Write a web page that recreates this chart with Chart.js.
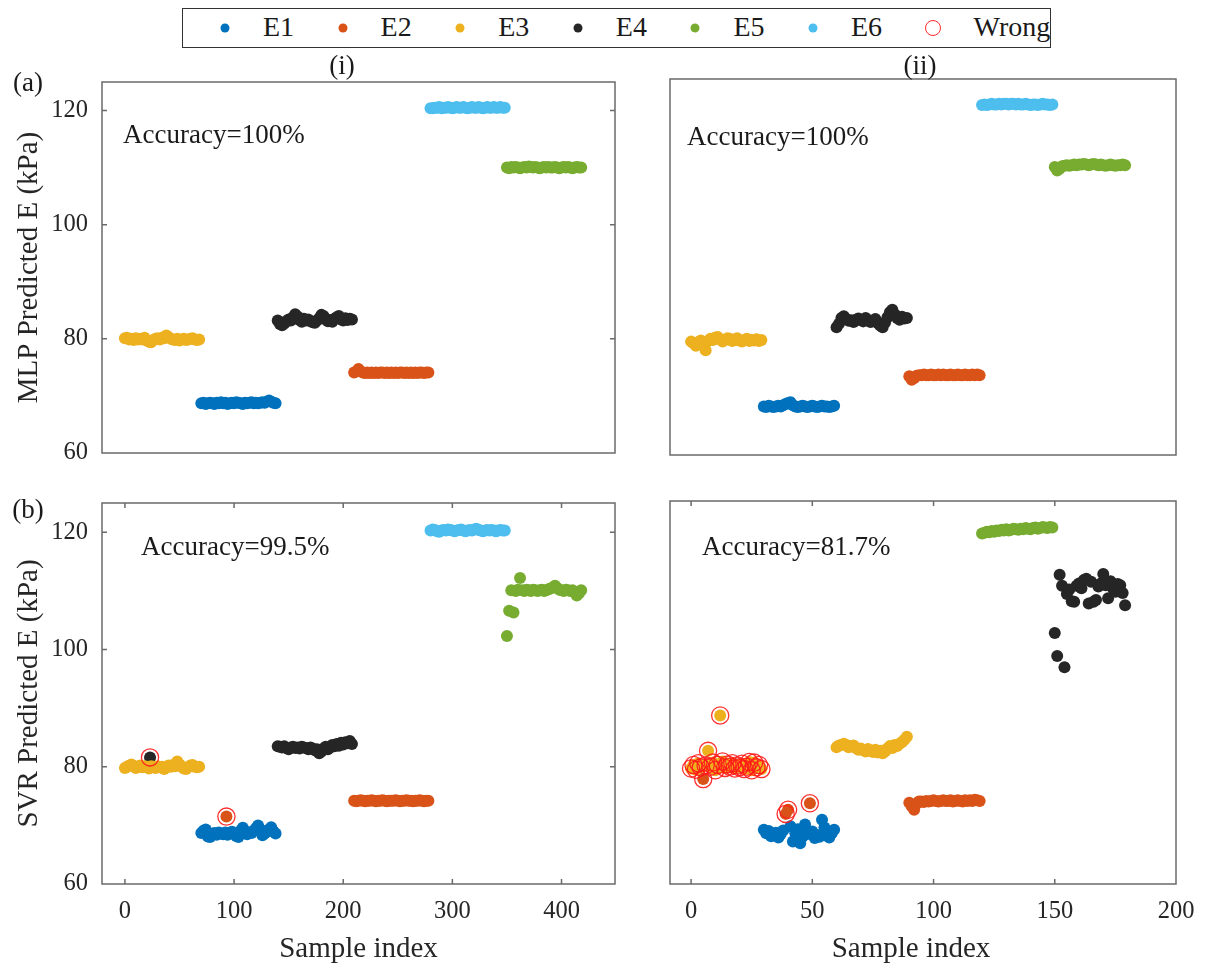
<!DOCTYPE html>
<html>
<head>
<meta charset="utf-8">
<script src="https://cdn.jsdelivr.net/npm/chart.js@4.4.0/dist/chart.umd.min.js"></script>
<style>
html,body{margin:0;padding:0;background:#fff;}
#wrap{position:relative;width:1217px;height:966px;overflow:hidden;font-family:"Liberation Serif","Times New Roman",serif;color:#1a1a1a;}
canvas.layer{position:absolute;left:0;top:0;}
.lbl{position:absolute;font-size:27px;line-height:1;white-space:nowrap;transform:translate(-50%,-50%);}
#legend{position:absolute;left:182px;top:8px;width:869px;height:40px;border:1.5px solid #333;box-sizing:border-box;background:#fff;}
.li{position:absolute;top:0;height:100%;display:flex;align-items:center;font-size:28px;white-space:nowrap;}
.dot{position:absolute;width:9px;height:9px;border-radius:50%;top:50%;transform:translate(-50%,-50%);}
.ring{position:absolute;width:16px;height:16px;border-radius:50%;border:1.3px solid #ff2a2a;box-sizing:border-box;top:50%;transform:translate(-50%,-50%);}
.lt{position:absolute;top:50%;transform:translateY(-52%);line-height:1;}
</style>
</head>
<body>
<div id="wrap">
  <canvas id="cTL" class="layer" width="1217" height="966"></canvas>
  <canvas id="cTR" class="layer" width="1217" height="966"></canvas>
  <canvas id="cBL" class="layer" width="1217" height="966"></canvas>
  <canvas id="cBR" class="layer" width="1217" height="966"></canvas>
  <div id="legend"></div>
  <div class="lbl" style="left:28px;top:82px;">(a)</div>
  <div class="lbl" style="left:28px;top:509px;">(b)</div>
  <div class="lbl" style="left:342px;top:65px;">(i)</div>
  <div class="lbl" style="left:920px;top:65px;">(ii)</div>
</div>
<script>
// ---------------- DATA ----------------
const classNames  = ['E1','E2','E3','E4','E5','E6'];
const classColors = ['#0072BD','#D95319','#EDB120','#262626','#77AC30','#4DBEEE'];
const wrongLabel  = 'Wrong';
const xTicksI  = [0,100,200,300,400];
const xTicksII = [0,50,100,150,200];
const yTicks   = [60,80,100,120];
const xAxisTitle = 'Sample index';
const yAxisTitles = ['MLP Predicted E (kPa)','SVR Predicted E (kPa)'];
const accuracyTexts = ['Accuracy=100%','Accuracy=100%','Accuracy=99.5%','Accuracy=81.7%'];

// MLP (i): 70 samples per class, every second sample listed
const mlpI_E3 = [80.1,80.2,79.9,80.0,79.8,80.1,79.9,80.0,79.9,80.2,79.7,79.5,79.4,79.8,80.0,80.1,79.9,80.2,80.1,80.6,80.3,80.0,79.9,79.8,80.0,79.7,79.9,80.0,79.8,79.9,80.0,80.1,79.9,79.8,79.9];
const mlpI_E1 = [68.7,68.8,68.6,68.7,68.8,68.7,68.6,68.8,68.7,68.9,68.7,68.8,68.6,68.7,68.8,68.7,68.9,68.8,68.7,68.6,68.8,68.7,68.8,68.9,68.7,68.8,68.7,68.8,68.9,68.8,69.0,69.2,69.0,68.8,68.7];
const mlpI_E4 = [83.2,82.6,82.4,82.7,83.1,83.4,83.2,83.8,84.3,83.9,83.3,83.0,83.5,83.2,83.4,83.1,82.9,82.8,83.2,83.6,84.2,84.0,83.4,83.1,83.3,83.0,83.5,83.8,84.0,83.4,83.2,83.6,83.3,83.5,83.4];
const mlpI_E2 = [74.1,74.3,74.7,74.3,74.1,74.0,74.1,74.0,74.1,74.0,74.1,74.0,74.1,74.1,74.0,74.1,74.0,74.1,74.0,74.1,74.0,74.1,74.1,74.0,74.1,74.0,74.1,74.0,74.1,74.0,74.1,74.1,74.0,74.1,74.1];
const mlpI_E6 = [120.4,120.4,120.5,120.5,120.6,120.4,120.5,120.5,120.6,120.5,120.4,120.5,120.6,120.5,120.5,120.6,120.5,120.4,120.5,120.6,120.5,120.5,120.6,120.5,120.4,120.5,120.6,120.5,120.5,120.6,120.5,120.5,120.6,120.5,120.5];
const mlpI_E5 = [110.0,109.9,110.1,110.0,110.1,110.0,109.9,110.0,110.1,110.0,110.2,110.1,110.0,110.1,110.0,109.9,110.0,110.1,110.0,110.1,110.0,110.0,110.1,110.0,109.9,110.0,110.1,110.0,110.1,110.0,109.9,110.0,110.1,110.0,110.0];

// MLP (ii): 30 samples per class
const mlpII_E3 = [79.6,79.3,78.9,79.5,79.8,79.2,78.1,79.7,80.1,79.9,80.3,80.4,80.0,79.6,79.9,80.2,80.1,79.7,79.9,80.2,79.8,79.6,79.9,80.1,79.7,79.9,79.8,80.0,79.7,79.9];
const mlpII_E1 = [68.4,68.3,68.5,68.4,68.3,68.4,68.5,68.4,68.6,68.8,69.0,69.1,68.6,68.4,68.3,68.4,68.5,68.4,68.3,68.4,68.5,68.4,68.3,68.4,68.5,68.4,68.4,68.3,68.4,68.5];
const mlpII_E4 = [82.1,82.7,83.7,84.0,83.5,83.2,83.3,83.0,83.4,83.6,83.3,83.1,83.7,83.3,83.0,83.2,83.5,82.8,82.4,82.1,82.9,83.8,84.7,85.1,84.3,83.7,83.4,83.9,83.6,83.7];
const mlpII_E2 = [73.6,73.0,73.3,73.7,73.8,73.8,73.9,73.8,73.8,73.9,73.8,73.8,73.9,73.8,73.9,73.8,73.8,73.9,73.8,73.8,73.9,73.8,73.8,73.9,73.8,73.8,73.9,73.8,73.9,73.8];
const mlpII_E6 = [120.5,120.6,120.5,120.6,120.7,120.6,120.6,120.7,120.6,120.7,120.7,120.6,120.7,120.7,120.6,120.7,120.6,120.6,120.7,120.6,120.5,120.6,120.6,120.5,120.6,120.7,120.6,120.6,120.5,120.6];
const mlpII_E5 = [109.8,109.2,109.5,109.9,110.0,110.1,110.0,110.1,110.2,110.1,110.2,110.2,110.3,110.2,110.1,110.2,110.3,110.2,110.1,110.2,110.1,110.0,110.1,110.2,110.1,110.0,110.1,110.1,110.2,110.1];

// SVR (i): every second sample listed; misclassified points given separately
const svrI_E3 = [79.8,80.0,80.2,80.4,80.1,79.8,80.0,80.2,79.9,80.1,80.0,79.7,80.1,80.0,79.8,80.1,79.9,80.0,79.6,79.9,80.2,80.0,80.3,80.1,80.9,80.4,80.0,79.7,79.6,79.9,80.2,80.3,80.0,79.9,80.0];
const svrI_E1 = [68.7,69.1,69.3,68.1,68.0,68.5,68.7,68.4,68.8,68.6,68.5,68.8,68.4,68.7,68.9,68.5,68.2,68.0,69.1,69.6,69.0,68.5,68.8,68.7,69.1,69.5,70.0,69.3,68.3,68.6,68.9,69.3,69.7,69.0,68.6];
const svrI_E4 = [83.5,83.4,83.3,83.5,83.2,83.0,83.3,83.4,83.2,83.3,83.1,83.4,83.3,83.2,83.0,83.3,83.1,82.8,83.0,82.3,82.6,83.1,83.4,83.0,83.3,83.7,83.5,83.9,83.6,84.1,83.8,84.2,84.0,84.4,83.9];
const svrI_E2 = [74.2,74.1,74.2,74.3,74.2,74.1,74.2,74.2,74.3,74.2,74.1,74.2,74.2,74.3,74.2,74.1,74.2,74.2,74.2,74.3,74.2,74.1,74.2,74.2,74.3,74.2,74.2,74.1,74.2,74.2,74.3,74.2,74.1,74.2,74.2];
const svrI_E6 = [120.3,120.5,120.4,120.2,120.1,120.3,120.4,120.3,120.5,120.4,120.3,120.2,120.3,120.4,120.5,120.3,120.2,120.3,120.4,120.3,120.5,120.6,120.4,120.3,120.2,120.3,120.4,120.3,120.4,120.3,120.2,120.3,120.4,120.3,120.3];
const svrI_E5 = [102.3,106.6,110.1,106.3,110.0,110.2,112.2,110.1,110.0,110.2,110.1,110.0,110.2,110.1,110.0,110.1,110.2,110.0,110.1,110.3,110.4,110.6,110.9,110.5,110.2,110.1,110.0,110.2,110.1,110.0,110.1,109.8,109.2,109.6,110.1];
const svrI_extraE4 = [[23,81.6]];
const svrI_extraE2 = [[93,71.5]];
const svrI_wrong   = [[23,81.6],[93,71.5]];

// SVR (ii): one value per sample (null = drawn in another colour)
const svrII_g1_E3 = [79.6,80.2,79.4,80.5,79.8,null,80.1,82.6,79.9,80.6,79.3,80.2,88.6,80.8,79.7,80.3,79.9,80.5,79.6,80.1,79.8,80.4,79.5,79.9,80.7,79.3,80.6,79.8,80.2,79.5];
const svrII_g1_E2 = [[5,77.8]];
const svrII_E1 = [69.2,68.6,69.0,68.1,68.3,68.7,67.9,68.5,69.1,null,null,69.8,67.2,68.6,69.3,66.9,68.0,70.1,68.5,null,68.9,67.8,68.3,68.0,70.9,69.6,68.2,67.9,68.6,69.2];
const svrII_g2_E2 = [[39,71.9],[40,72.6],[49,73.7]];
const svrII_E3b = [83.2,83.5,83.6,83.8,83.6,83.2,83.4,83.5,83.1,82.8,83.0,82.7,82.5,82.9,82.6,82.4,82.8,82.3,82.6,82.2,82.5,83.0,83.4,83.1,83.6,83.4,83.8,84.1,84.5,85.0];
const svrII_E2 = [73.8,73.2,72.6,73.6,74.0,74.0,73.9,74.1,74.0,74.1,74.2,74.1,74.0,74.1,74.2,74.1,74.1,74.2,74.0,74.1,74.2,74.1,74.0,74.2,74.1,74.2,74.1,74.3,74.2,74.1];
const svrII_E5 = [119.5,119.6,119.8,119.7,119.9,119.8,120.0,119.9,120.1,120.0,120.2,120.0,120.1,120.3,120.2,120.1,120.3,120.2,120.4,120.3,120.2,120.4,120.5,120.3,120.4,120.6,120.5,120.4,120.6,120.5];
const svrII_E4 = [102.6,98.7,112.5,110.6,96.8,109.2,110.0,108.0,107.9,110.6,111.0,110.2,111.6,111.8,107.6,111.3,107.9,108.2,110.5,111.0,112.6,110.7,108.5,111.4,110.2,109.6,110.9,110.7,109.4,107.3];
const svrII_wrongIdx = [0,1,2,3,4,5,6,7,8,9,10,11,12,13,14,15,16,17,18,19,20,21,22,23,24,25,26,27,28,29,39,40,49];

// ---------------- HELPERS ----------------
function seq(start, step, ys){ const out=[]; ys.forEach((y,i)=>{ if(y!==null) out.push({x:start+i*step,y}); }); return out; }
function pairs(arr){ return arr.map(p=>({x:p[0],y:p[1]})); }
const R = 6;
function ds(ci, pts){ return {label:classNames[ci], data:pts, pointRadius:R, pointHoverRadius:R, pointBackgroundColor:classColors[ci], pointBorderWidth:0, pointBorderColor:'rgba(0,0,0,0)', showLine:false}; }
function ringDs(pts){ return {label:wrongLabel, data:pts, order:-1, pointRadius:8.6, pointHoverRadius:8.6, pointBackgroundColor:'rgba(0,0,0,0)', pointBorderColor:'rgba(255,25,25,0.9)', pointBorderWidth:1.3, showLine:false}; }

const framePlugin = {
  id:'frame',
  afterDatasetsDraw(chart, args, o){
    const {ctx, chartArea:a, scales} = chart;
    ctx.save();
    ctx.strokeStyle='#6a6a6a'; ctx.lineWidth=1.5;
    ctx.strokeRect(a.left, a.top, a.right-a.left, a.bottom-a.top);
    const L=5;
    ctx.beginPath();
    if(o.xTicks){ scales.x.ticks.forEach(t=>{ const p=scales.x.getPixelForValue(t.value); if(p>a.left+1&&p<a.right-1){ ctx.moveTo(p,a.bottom); ctx.lineTo(p,a.bottom-L); ctx.moveTo(p,a.top); ctx.lineTo(p,a.top+L);} }); }
    if(o.yTicks){ scales.y.ticks.forEach(t=>{ const p=scales.y.getPixelForValue(t.value); if(p>a.top+1&&p<a.bottom-1){ ctx.moveTo(a.left,p); ctx.lineTo(a.left+L,p); ctx.moveTo(a.right,p); ctx.lineTo(a.right-L,p);} }); }
    ctx.stroke();
    ctx.fillStyle='#1a1a1a'; ctx.font='27px "Liberation Serif"'; ctx.textBaseline='alphabetic'; ctx.textAlign='left';
    ctx.fillText(o.text, a.left+o.tx, a.top+o.ty);
    if(o.xTitle){
      ctx.fillStyle='#262626'; ctx.font='29px "Liberation Serif"'; ctx.textAlign='center';
      ctx.fillText(o.xTitle, (a.left+a.right)/2 + o.titleDx, o.titleBase);
    }
    ctx.restore();
  }
};

const W=1217, H=966;
const tickFont = {family:'"Liberation Serif"', size:24.5};
const titleFont = {family:'"Liberation Serif"', size:29};

function makeChart(id, c){
  new Chart(document.getElementById(id), {
    type:'scatter',
    data:{datasets:c.datasets},
    options:{
      responsive:false, animation:false, events:[],
      layout:{padding:{left:0, top:c.top, right:W-c.right, bottom:0}},
      plugins:{legend:{display:false}, tooltip:{enabled:false},
        frame:{xTicks:c.xTickMarks, yTicks:c.yTickMarks, text:c.text, tx:c.tx, ty:c.ty,
               xTitle:c.xLabels?xAxisTitle:null, titleDx:c.titleDx||0, titleBase:957}},
      scales:{
        x:{type:'linear', position:'bottom', min:c.xmin, max:c.xmax,
           afterBuildTicks:s=>{ s.ticks=c.xt.map(v=>({value:v})); },
           afterFit:s=>{ s.height=H-c.bottom; },
           grid:{display:false, drawTicks:false}, border:{display:false},
           ticks:{display:c.xLabels, font:tickFont, color:'#262626', padding:13, maxRotation:0, autoSkip:false},
           title:{display:false}},
        y:{type:'linear', min:60, max:125,
           afterBuildTicks:s=>{ s.ticks=yTicks.map(v=>({value:v})); },
           afterFit:s=>{ s.width=c.left; },
           grid:{display:false, drawTicks:false}, border:{display:false},
           ticks:{display:c.yLabels, font:tickFont, color:'#262626', padding:14},
           title:{display:!!c.yTitle, text:c.yTitle||'', font:titleFont, color:'#262626', padding:{top:12,bottom:0}}}
      }
    },
    plugins:[framePlugin]
  });
}

// ---------------- PANELS ----------------
makeChart('cTL', {left:102, right:615, top:82, bottom:453, xmin:-21, xmax:449, xt:xTicksI,
  xLabels:false, yLabels:true, yTitle:yAxisTitles[0], xTickMarks:false, yTickMarks:true,
  text:accuracyTexts[0], tx:21, ty:61,
  datasets:[ds(0,seq(70,2,mlpI_E1)), ds(1,seq(210,2,mlpI_E2)), ds(2,seq(0,2,mlpI_E3)), ds(3,seq(140,2,mlpI_E4)), ds(4,seq(350,2,mlpI_E5)), ds(5,seq(280,2,mlpI_E6))]});

makeChart('cTR', {left:670, right:1176, top:79, bottom:455, xmin:-8.7, xmax:200, xt:xTicksII,
  xLabels:false, yLabels:false, yTitle:null, xTickMarks:false, yTickMarks:false,
  text:accuracyTexts[1], tx:17, ty:66,
  datasets:[ds(0,seq(30,1,mlpII_E1)), ds(1,seq(90,1,mlpII_E2)), ds(2,seq(0,1,mlpII_E3)), ds(3,seq(60,1,mlpII_E4)), ds(4,seq(150,1,mlpII_E5)), ds(5,seq(120,1,mlpII_E6))]});

makeChart('cBL', {left:102, right:615, top:503, bottom:884, xmin:-21, xmax:449, xt:xTicksI,
  xLabels:true, yLabels:true, yTitle:yAxisTitles[1], xTickMarks:true, yTickMarks:true,
  text:accuracyTexts[2], tx:39, ty:52, titleDx:0,
  datasets:[ringDs(pairs(svrI_wrong)),
    ds(0,seq(70,2,svrI_E1)), ds(1,seq(210,2,svrI_E2).concat(pairs(svrI_extraE2))), ds(2,seq(0,2,svrI_E3)),
    ds(3,seq(140,2,svrI_E4).concat(pairs(svrI_extraE4))), ds(4,seq(350,2,svrI_E5)), ds(5,seq(280,2,svrI_E6))]});

// per-sample lookup for SVR (ii) wrong rings
const svrIIAll = {};
[seq(0,1,svrII_g1_E3), pairs(svrII_g1_E2), seq(30,1,svrII_E1), pairs(svrII_g2_E2)].forEach(a=>a.forEach(p=>{ svrIIAll[p.x]=p.y; }));
const svrIIRings = svrII_wrongIdx.map(i=>({x:i, y:svrIIAll[i]}));

makeChart('cBR', {left:670, right:1176, top:501, bottom:884, xmin:-8.7, xmax:200, xt:xTicksII,
  xLabels:true, yLabels:false, yTitle:null, xTickMarks:true, yTickMarks:false,
  text:accuracyTexts[3], tx:32, ty:54, titleDx:-12,
  datasets:[ringDs(svrIIRings),
    ds(0,seq(30,1,svrII_E1)), ds(1,seq(90,1,svrII_E2).concat(pairs(svrII_g1_E2),pairs(svrII_g2_E2))),
    ds(2,seq(0,1,svrII_g1_E3).concat(seq(60,1,svrII_E3b))), ds(3,seq(150,1,svrII_E4)),
    ds(4,seq(120,1,svrII_E5))]});

// ---------------- LEGEND ----------------
const legend = document.getElementById('legend');
const legendStep = 117.6, legendFirst = 42, legendTextGap = 38;
classNames.forEach((n,i)=>{
  const cx = legendFirst + i*legendStep;
  const m=document.createElement('span'); m.className='dot'; m.style.left=cx+'px'; m.style.background=classColors[i]; legend.appendChild(m);
  const t=document.createElement('span'); t.className='lt li'; t.style.left=(cx+legendTextGap)+'px'; t.textContent=n; legend.appendChild(t);
});
{
  const cx = legendFirst + 6*legendStep + 2;
  const m=document.createElement('span'); m.className='ring'; m.style.left=cx+'px'; legend.appendChild(m);
  const t=document.createElement('span'); t.className='lt li'; t.style.left=(cx+legendTextGap+3)+'px'; t.textContent=wrongLabel; legend.appendChild(t);
}
</script>
</body>
</html>
